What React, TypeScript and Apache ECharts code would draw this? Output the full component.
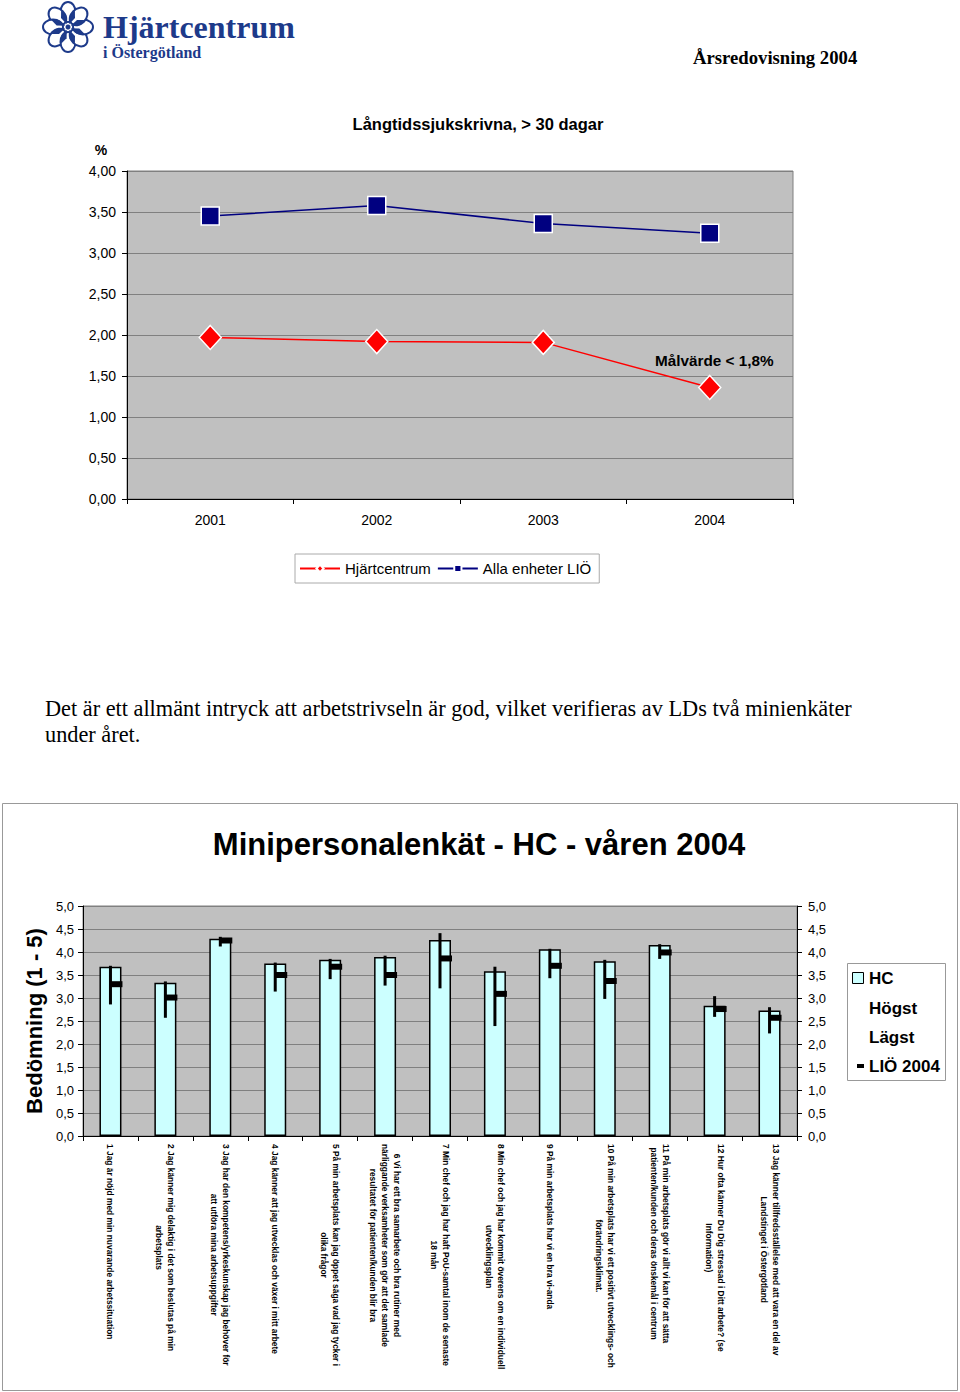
import React, { useEffect, useRef } from "react";
import * as echarts from "echarts";

const years = ["2001", "2002", "2003", "2004"];
const hjartcentrum = [1.97, 1.92, 1.91, 1.36];
const allaEnheter = [3.45, 3.58, 3.36, 3.24];

const questions = [
  "1 Jag är nöjd med min nuvarande arbetssituation",
  "2 Jag känner mig delaktig i det som beslutas på min\narbetsplats",
  "3 Jag har den kompetens/yrkeskunskap jag behöver för\natt utföra mina arbetsuppgifter",
  "4 Jag känner att jag utvecklas och växer i mitt arbete",
  "5 På min arbetsplats kan jag öppet säga vad jag tycker i\nolika frågor",
  "6 Vi har ett bra samarbete och bra rutiner med\nnärliggande verksamheter som gör att det samlade\nresultatet för patienten/kunden blir bra",
  "7 Min chef och jag har haft PoU-samtal inom de senaste\n18 mån",
  "8 Min chef och jag har kommit överens om en individuell\nutvecklingsplan",
  "9 På min arbetsplats har vi en bra vi-anda",
  "10 På min arbetsplats har vi ett positivt utvecklings- och\nförändringsklimat.",
  "11 På min arbetsplats gör vi allt vi kan för att sätta\npatienten/kunden och deras önskemål i centrum",
  "12 Hur ofta känner Du Dig stressad i Ditt arbete? (se\nInformation)",
  "13 Jag känner tillfredsställelse med att vara en del av\nLandstinget i Östergötland",
];
const hcValues = [3.68, 3.33, 4.29, 3.75, 3.83, 3.89, 4.26, 3.58, 4.06, 3.8, 4.15, 2.83, 2.73];
const hogst = [3.7, 3.36, 4.33, 3.77, 3.85, 3.92, 4.41, 3.68, 4.07, 3.83, 4.17, 3.04, 2.8];
const lagst = [2.86, 2.57, 4.12, 3.14, 3.41, 3.27, 3.21, 2.39, 3.43, 2.98, 3.85, 2.59, 2.23];
const lio2004 = [3.3, 3.01, 4.25, 3.5, 3.68, 3.5, 3.86, 3.09, 3.7, 3.37, 3.99, 2.76, 2.57];

const SANS = "'Liberation Sans', Arial, sans-serif";
const SERIF = "'Liberation Serif', 'Times New Roman', serif";
const LOGO_BLUE = "#1d3a8a";

function buildEmblem() {
  const cx = 68;
  const cy = 27;
  const children: any[] = [];
  for (let i = 0; i < 8; i++) {
    children.push({
      type: "ellipse",
      x: cx,
      y: cy,
      rotation: (i * Math.PI) / 4,
      shape: { cx: 0, cy: -15, rx: 7.5, ry: 10 },
      style: { fill: "#fff", stroke: LOGO_BLUE, lineWidth: 2 },
    });
  }
  for (let i = 0; i < 8; i++) {
    children.push({
      type: "polygon",
      x: cx,
      y: cy,
      rotation: (i * Math.PI) / 4 + Math.PI / 8,
      shape: { points: [[0, -3], [3, -11], [0, -18], [-3, -11]] },
      style: { fill: LOGO_BLUE },
    });
  }
  children.push({
    type: "circle",
    shape: { cx, cy, r: 2.5 },
    style: { fill: LOGO_BLUE },
  });
  return children;
}

export default function App() {
  const ref = useRef<HTMLDivElement>(null);
  useEffect(() => {
    if (!ref.current) return;
    const chart = echarts.init(ref.current, undefined, { renderer: "svg" });
    const option: any = {
      animation: false,
      backgroundColor: "#ffffff",
      textStyle: { fontFamily: SANS },
      title: [
        {
          text: "Långtidssjukskrivna, > 30 dagar",
          left: 473,
          top: 110,
          textAlign: "center",
          textStyle: { fontSize: 16.5, fontWeight: "bold", color: "#000", fontFamily: SANS },
        },
        {
          text: "Minipersonalenkät - HC - våren 2004",
          left: 474,
          top: 824,
          textAlign: "center",
          textStyle: { fontSize: 31, fontWeight: "bold", color: "#000", fontFamily: SANS },
        },
      ],
      legend: [
        {
          data: ["Hjärtcentrum", "Alla enheter LIÖ"],
          left: 295,
          top: 554,
          orient: "horizontal",
          itemWidth: 40,
          itemHeight: 9,
          itemGap: 6,
          padding: [7, 8, 7, 4],
          borderColor: "#aaaaaa",
          borderWidth: 1,
          textStyle: { fontSize: 15, color: "#000", fontFamily: SANS },
        },
      ],
      grid: [
        {
          left: 127,
          top: 171,
          width: 666,
          height: 328,
          show: true,
          backgroundColor: "#c0c0c0",
          borderColor: "#808080",
          borderWidth: 1,
        },
        {
          left: 83,
          top: 906,
          width: 714,
          height: 230,
          show: true,
          backgroundColor: "#c0c0c0",
          borderColor: "#808080",
          borderWidth: 1,
        },
      ],
      xAxis: [
        {
          type: "category",
          gridIndex: 0,
          data: years,
          axisLine: { lineStyle: { color: "#000", width: 1 } },
          axisTick: { show: true, length: 5, lineStyle: { color: "#000" } },
          axisLabel: { fontSize: 14, color: "#000", margin: 14 },
        },
        {
          type: "category",
          gridIndex: 1,
          data: questions,
          axisLine: { lineStyle: { color: "#000", width: 1 } },
          axisTick: { show: true, length: 5, lineStyle: { color: "#000" } },
          axisLabel: {
            interval: 0,
            rotate: -90,
            margin: 8,
            formatter: (v: string) =>
              v
                .split("\n")
                .map((l) => "{q|" + l + "}")
                .join("\n"),
            rich: {
              q: {
                align: "center",
                fontSize: 8.4,
                fontWeight: "bold",
                lineHeight: 12,
                color: "#000",
                fontFamily: SANS,
              },
            },
          },
        },
      ],
      yAxis: [
        {
          type: "value",
          gridIndex: 0,
          min: 0,
          max: 4,
          interval: 0.5,
          axisLine: { show: true, lineStyle: { color: "#000", width: 1 } },
          axisTick: { show: true, length: 5, lineStyle: { color: "#000" } },
          splitLine: { show: true, lineStyle: { color: "#808080", width: 1 } },
          axisLabel: {
            fontSize: 14,
            color: "#000",
            margin: 11,
            formatter: (v: number) => v.toFixed(2).replace(".", ","),
          },
        },
        {
          type: "value",
          gridIndex: 1,
          position: "left",
          min: 0,
          max: 5,
          interval: 0.5,
          name: "Bedömning (1 - 5)",
          nameLocation: "middle",
          nameGap: 38,
          nameTextStyle: { fontSize: 22, fontWeight: "bold", color: "#000", fontFamily: SANS },
          axisLine: { show: true, lineStyle: { color: "#000", width: 1 } },
          axisTick: { show: true, length: 5, lineStyle: { color: "#000" } },
          splitLine: { show: true, lineStyle: { color: "#808080", width: 1 } },
          axisLabel: {
            fontSize: 13,
            color: "#000",
            margin: 9,
            formatter: (v: number) => v.toFixed(1).replace(".", ","),
          },
        },
        {
          type: "value",
          gridIndex: 1,
          position: "right",
          min: 0,
          max: 5,
          interval: 0.5,
          axisLine: { show: true, lineStyle: { color: "#000", width: 1 } },
          axisTick: { show: true, length: 5, lineStyle: { color: "#000" } },
          splitLine: { show: false },
          axisLabel: {
            fontSize: 13,
            color: "#000",
            margin: 11,
            formatter: (v: number) => v.toFixed(1).replace(".", ","),
          },
        },
      ],
      series: [
        {
          name: "Hjärtcentrum",
          type: "line",
          xAxisIndex: 0,
          yAxisIndex: 0,
          data: hjartcentrum,
          symbol: "diamond",
          symbolSize: [22, 24],
          color: "#ff0000",
          lineStyle: { color: "#ff0000", width: 1.5 },
          itemStyle: { color: "#ff0000", borderColor: "#ffffff", borderWidth: 1.5 },
          z: 3,
        },
        {
          name: "Alla enheter LIÖ",
          type: "line",
          xAxisIndex: 0,
          yAxisIndex: 0,
          data: allaEnheter,
          symbol: "rect",
          symbolSize: 18,
          color: "#000080",
          lineStyle: { color: "#000080", width: 1.5 },
          itemStyle: { color: "#000080", borderColor: "#ffffff", borderWidth: 1.5 },
          z: 3,
        },
        {
          name: "HC",
          type: "bar",
          xAxisIndex: 1,
          yAxisIndex: 1,
          data: hcValues,
          barWidth: 22,
          itemStyle: { color: "#ccffff", borderColor: "#000", borderWidth: 1.5 },
        },
        {
          name: "Högst / Lägst / LIÖ 2004",
          type: "custom",
          xAxisIndex: 1,
          yAxisIndex: 1,
          z: 5,
          data: questions.map((_, i) => [i, hogst[i], lagst[i], lio2004[i]]),
          encode: { x: 0, y: [1, 2, 3] },
          renderItem: (params: any, api: any) => {
            const idx = api.value(0);
            const top = api.coord([idx, api.value(1)]);
            const bot = api.coord([idx, api.value(2)]);
            const mid = api.coord([idx, api.value(3)]);
            return {
              type: "group",
              children: [
                {
                  type: "line",
                  shape: { x1: top[0], y1: top[1], x2: bot[0], y2: bot[1] },
                  style: { stroke: "#000", lineWidth: 3 },
                },
                {
                  type: "rect",
                  shape: { x: mid[0], y: mid[1] - 3, width: 12, height: 6 },
                  style: { fill: "#000" },
                },
              ],
            };
          },
        },
      ],
      graphic: [
        ...buildEmblem(),
        {
          type: "text",
          x: 103,
          y: 27,
          style: {
            text: "Hjärtcentrum",
            font: "bold 32px " + SERIF,
            fill: LOGO_BLUE,
            align: "left",
            verticalAlign: "middle",
          },
        },
        {
          type: "text",
          x: 103,
          y: 52,
          style: {
            text: "i Östergötland",
            font: "bold 16px " + SERIF,
            fill: LOGO_BLUE,
            align: "left",
            verticalAlign: "middle",
          },
        },
        {
          type: "text",
          x: 693,
          y: 57,
          style: {
            text: "Årsredovisning 2004",
            font: "bold 18.7px " + SERIF,
            fill: "#000",
            align: "left",
            verticalAlign: "middle",
          },
        },
        {
          type: "text",
          x: 101,
          y: 150,
          style: {
            text: "%",
            font: "bold 14px " + SANS,
            fill: "#000",
            align: "center",
            verticalAlign: "middle",
          },
        },
        {
          type: "text",
          x: 655,
          y: 360,
          z: 10,
          style: {
            text: "Målvärde < 1,8%",
            font: "bold 15.3px " + SANS,
            fill: "#000",
            align: "left",
            verticalAlign: "middle",
          },
        },
        {
          type: "text",
          x: 45,
          y: 695,
          style: {
            text:
              "Det är ett allmänt intryck att arbetstrivseln är god, vilket verifieras av LDs två minienkäter\nunder året.",
            font: "22.3px " + SERIF,
            lineHeight: 26,
            fill: "#000",
            align: "left",
            verticalAlign: "top",
          },
        },
        {
          type: "rect",
          shape: { x: 2.5, y: 803.5, width: 955, height: 587 },
          style: { fill: "none", stroke: "#999", lineWidth: 1 },
          silent: true,
        },
        {
          type: "rect",
          shape: { x: 847.5, y: 963.5, width: 98, height: 117 },
          style: { fill: "#fff", stroke: "#999", lineWidth: 1 },
        },
        {
          type: "rect",
          shape: { x: 852.5, y: 972.5, width: 11, height: 11 },
          style: { fill: "#ccffff", stroke: "#000", lineWidth: 1 },
        },
        {
          type: "text",
          x: 869,
          y: 978,
          style: { text: "HC", font: "bold 17px " + SANS, fill: "#000", align: "left", verticalAlign: "middle" },
        },
        {
          type: "text",
          x: 869,
          y: 1008,
          style: { text: "Högst", font: "bold 17px " + SANS, fill: "#000", align: "left", verticalAlign: "middle" },
        },
        {
          type: "text",
          x: 869,
          y: 1037,
          style: { text: "Lägst", font: "bold 17px " + SANS, fill: "#000", align: "left", verticalAlign: "middle" },
        },
        {
          type: "rect",
          shape: { x: 857, y: 1064, width: 7, height: 4 },
          style: { fill: "#000" },
        },
        {
          type: "text",
          x: 869,
          y: 1066,
          style: { text: "LIÖ 2004", font: "bold 17px " + SANS, fill: "#000", align: "left", verticalAlign: "middle" },
        },
      ],
    };
    chart.setOption(option);
    return () => chart.dispose();
  }, []);
  return (
    <div
      ref={ref}
      style={{ position: "absolute", left: 0, top: 0, width: 960, height: 1392, background: "#fff" }}
    />
  );
}
